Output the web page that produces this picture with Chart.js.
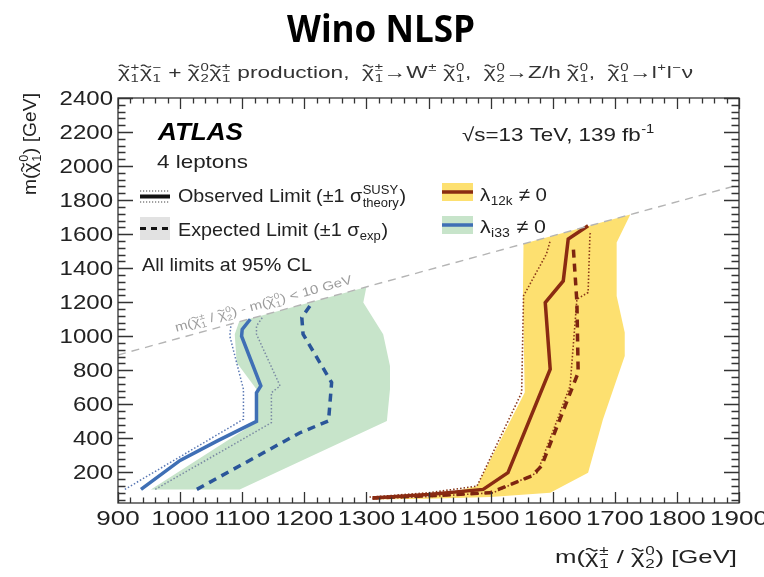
<!DOCTYPE html>
<html>
<head>
<meta charset="utf-8">
<script src="https://cdn.jsdelivr.net/npm/chart.js@4.4.1/dist/chart.umd.min.js"></script>
<style>
  html, body { margin: 0; padding: 0; background: #fff; }
  #wrap { width: 764px; height: 577px; }
</style>
</head>
<body>
<div id="wrap"><canvas id="c" width="764" height="577"></canvas></div>
<script>
// ---- Axis ticks (GeV) ----
const xTickValues = [900, 1000, 1100, 1200, 1300, 1400, 1500, 1600, 1700, 1800, 1900];
const yTickValues = [200, 400, 600, 800, 1000, 1200, 1400, 1600, 1800, 2000, 2200, 2400];

// ---- Kinematic boundary: m(chi1+/chi2^0) - m(chi1^0) = 10 GeV ----
const kinX = [900, 1900];
const kinY = [890, 1890];

// ---- lambda_i33 != 0 (blue / green) ----
const i33ObsX = [937, 1000, 1060, 1123, 1123, 1130, 1099, 1100, 1113];
const i33ObsY = [100, 270, 385, 500, 668, 708, 1000, 1040, 1100];
const i33ObsUpX = [960, 1147, 1147, 1161, 1123, 1123, 1134];
const i33ObsUpY = [100, 492, 668, 708, 1012, 1060, 1118];
const i33ObsDnX = [911, 1102, 1102, 1080, 1082];
const i33ObsDnY = [100, 512, 688, 1002, 1072];
const i33ExpX = [1027, 1193, 1239, 1244, 1198, 1196, 1209];
const i33ExpY = [100, 433, 502, 728, 1012, 1110, 1178];
// expected +-1 sigma band: low edge (bottom -> top), high edge (top -> bottom)
const i33BandLoX = [953, 1121, 1123, 1091, 1088, 1095];
const i33BandLoY = [100, 492, 688, 845, 1012, 1085];
const i33BandHiX = [1300, 1295, 1327, 1338, 1338, 1333, 1096];
const i33BandHiY = [1290, 1198, 1012, 825, 688, 502, 100];

// ---- lambda_12k != 0 (brown / yellow) ----
const l12kObsX = [1310, 1400, 1488, 1528, 1596, 1588, 1617, 1625, 1657];
const l12kObsY = [50, 70, 100, 198, 806, 1198, 1325, 1571, 1649];
const l12kObsUpX = [1310, 1400, 1504, 1575, 1628, 1639, 1657, 1660, 1662];
const l12kObsUpY = [45, 58, 80, 198, 708, 1218, 1257, 1600, 1612];
const l12kObsDnX = [1305, 1400, 1478, 1550, 1553, 1590, 1596];
const l12kObsDnY = [55, 80, 119, 669, 1237, 1484, 1561];
const l12kExpX = [1310, 1400, 1499, 1566, 1582, 1641, 1639, 1633];
const l12kExpY = [50, 62, 80, 178, 237, 786, 1198, 1531];
const l12kBandLoX = [1305, 1400, 1478, 1555, 1552, 1553];
const l12kBandLoY = [40, 55, 119, 669, 1237, 1543];
const l12kBandHiX = [1725, 1703, 1703, 1716, 1716, 1681, 1657, 1596, 1500, 1400, 1305];
const l12kBandHiY = [1715, 1551, 1237, 1022, 884, 512, 198, 80, 55, 45, 40];

// ---- helpers ----
function pts(xs, ys) { return xs.map((x, i) => ({ x: x, y: ys[i] })); }
function band(loX, loY, hiX, hiY) { return pts(loX, loY).concat(pts(hiX, hiY)); }

const FAM = '"Liberation Sans", Arial, Helvetica, sans-serif';
const INK = '#222';
const YELLOW = '#fde070';
const GREEN = '#c7e4ca';

// rich text: ['t', text] plain, ['u', text] superscript, ['d', text] subscript,
// ['ud', sup, sub] stacked scripts, ['x'] chi with tilde
function setFont(ctx, st, size, fam) { ctx.font = `${st} ${size}px ${fam}`; }
function segW(ctx, s, size, st, fam) {
  const k = s[0];
  if (k === 't') { setFont(ctx, st, size, fam); return ctx.measureText(s[1]).width; }
  if (k === 'x') { setFont(ctx, st, size, fam); return ctx.measureText('χ').width; }
  setFont(ctx, st, size * 0.66, fam);
  if (k === 'u' || k === 'd') return ctx.measureText(s[1]).width + size * 0.05;
  if (k === 'ud') return Math.max(ctx.measureText(s[1]).width, ctx.measureText(s[2]).width) + size * 0.06;
  return 0;
}
function segDraw(ctx, s, cx, size, st, fam) {
  const k = s[0];
  if (k === 't') { setFont(ctx, st, size, fam); ctx.fillText(s[1], cx, 0); return; }
  if (k === 'x') {
    setFont(ctx, st, size, fam);
    const w = ctx.measureText('χ').width;
    ctx.fillText('χ', cx, 0);
    // tilde accent
    const y0 = -size * 0.7, a = size * 0.06, x0 = cx + w * 0.08, tw = w * 0.84;
    ctx.save();
    ctx.lineWidth = size * 0.07;
    ctx.strokeStyle = ctx.fillStyle;
    ctx.beginPath();
    for (let i = 0; i <= 16; i++) {
      const t = i / 16;
      const px = x0 + t * tw, py = y0 - a * Math.sin(t * Math.PI * 2);
      if (i === 0) ctx.moveTo(px, py); else ctx.lineTo(px, py);
    }
    ctx.stroke();
    ctx.restore();
    return;
  }
  setFont(ctx, st, size * 0.66, fam);
  if (k === 'u') ctx.fillText(s[1], cx + size * 0.02, -size * 0.42);
  else if (k === 'd') ctx.fillText(s[1], cx + size * 0.02, size * 0.22);
  else if (k === 'ud') {
    ctx.fillText(s[1], cx + size * 0.03, -size * 0.42);
    ctx.fillText(s[2], cx + size * 0.03, size * 0.26);
  }
}
function drawRich(ctx, segs, o) {
  const size = o.size, st = o.style || '', fam = o.family || FAM;
  let w = 0; const ws = [];
  for (const s of segs) { const sw = segW(ctx, s, size, st, fam); ws.push(sw); w += sw; }
  const sx = o.width ? o.width / w : (o.sx || 1);
  ctx.save();
  ctx.translate(o.x, o.y);
  if (o.rot) ctx.rotate(o.rot);
  ctx.scale(sx, 1);
  ctx.fillStyle = o.color || INK;
  ctx.textAlign = 'left';
  ctx.textBaseline = 'alphabetic';
  let cx = o.align === 'right' ? -w : (o.align === 'center' ? -w / 2 : 0);
  segs.forEach((s, i) => { segDraw(ctx, s, cx, size, st, fam); cx += ws[i]; });
  ctx.restore();
}

const X = ['x'];
const subtitleSegs = [
  X, ['ud', '+', '1'], X, ['ud', '−', '1'], ['t', ' + '], X, ['ud', '0', '2'], X, ['ud', '±', '1'],
  ['t', ' production,  '], X, ['ud', '±', '1'], ['t', '→W'], ['u', '±'], ['t', ' '], X, ['ud', '0', '1'],
  ['t', ',  '], X, ['ud', '0', '2'], ['t', '→Z/h '], X, ['ud', '0', '1'],
  ['t', ',  '], X, ['ud', '0', '1'], ['t', '→l'], ['u', '+'], ['t', 'l'], ['u', '−'], ['t', 'ν']
];
const yTitleSegs = [['t', 'm('], X, ['ud', '0', '1'], ['t', ') [GeV]']];
const xTitleSegs = [['t', 'm('], X, ['ud', '±', '1'], ['t', ' / '], X, ['ud', '0', '2'], ['t', ') [GeV]']];
const kinLabelSegs = [['t', 'm('], X, ['ud', '±', '1'], ['t', ' / '], X, ['ud', '0', '2'], ['t', ') - m('], X, ['ud', '0', '1'], ['t', ') < 10 GeV']];

const X_MINOR = 20, X_MAJOR = 100, Y_MINOR = 40, Y_MAJOR = 200;

const decor = {
  id: 'decor',
  beforeDraw(chart) {
    const ctx = chart.ctx;
    ctx.save();
    ctx.fillStyle = '#fff';
    ctx.fillRect(0, 0, chart.width, chart.height);
    ctx.restore();
  },
  afterDraw(chart) {
    const ctx = chart.ctx, a = chart.chartArea;
    const xs = chart.scales.x, ys = chart.scales.y;
    ctx.save();

    // frame
    ctx.strokeStyle = '#333';
    ctx.lineWidth = 1.3;
    ctx.strokeRect(a.left, a.top, a.right - a.left, a.bottom - a.top);

    // inward ticks on all four sides
    ctx.beginPath();
    for (let v = xs.min; v <= xs.max + 1e-6; v += X_MINOR) {
      const px = Math.round(xs.getPixelForValue(v)) + 0.5;
      const len = Math.abs(v % X_MAJOR) < 1e-6 ? 11 : 5.5;
      ctx.moveTo(px, a.bottom); ctx.lineTo(px, a.bottom - len);
      ctx.moveTo(px, a.top); ctx.lineTo(px, a.top + len);
    }
    for (let v = Math.ceil(ys.min / Y_MINOR) * Y_MINOR; v <= ys.max + 1e-6; v += Y_MINOR) {
      const py = Math.round(ys.getPixelForValue(v)) + 0.5;
      const len = Math.abs(v % Y_MAJOR) < 1e-6 ? 15 : 7.5;
      ctx.moveTo(a.left, py); ctx.lineTo(a.left + len, py);
      ctx.moveTo(a.right, py); ctx.lineTo(a.right - len, py);
    }
    ctx.stroke();

    // tick labels from the scales' ticks
    xs.ticks.forEach(t => {
      drawRich(ctx, [['t', String(t.value)]], { x: xs.getPixelForValue(t.value), y: a.bottom + 22, size: 20, sx: 1.3, align: 'center' });
    });
    ys.ticks.forEach(t => {
      drawRich(ctx, [['t', String(t.value)]], { x: a.left - 5, y: ys.getPixelForValue(t.value) + 7, size: 20, sx: 1.2, align: 'right' });
    });

    // axis titles
    drawRich(ctx, xTitleSegs, { x: a.right - 2, y: 563, size: 19, width: 182, align: 'right' });
    drawRich(ctx, yTitleSegs, { x: 36, y: 93, size: 19, width: 102, align: 'right', rot: -Math.PI / 2 });

    // title and process line
    drawRich(ctx, [['t', 'Wino NLSP']], { x: 381, y: 42, size: 37, width: 188, align: 'center', style: 'bold', family: '"Open Sans", "Liberation Sans", sans-serif', color: '#000' });
    drawRich(ctx, subtitleSegs, { x: 118, y: 78, size: 17, width: 575, color: '#333' });

    // label along the kinematic boundary
    const p1x = xs.getPixelForValue(kinX[0]), p1y = ys.getPixelForValue(kinY[0]);
    const p2x = xs.getPixelForValue(kinX[1]), p2y = ys.getPixelForValue(kinY[1]);
    const ang = Math.atan2(p2y - p1y, p2x - p1x);
    const lx = 178, ly = p1y + (lx - p1x) * Math.tan(ang);
    drawRich(ctx, kinLabelSegs, { x: lx + 7 * Math.sin(ang), y: ly - 7 * Math.cos(ang), size: 12.5, width: 183, rot: ang, color: '#9c9c9c' });

    // ATLAS block
    drawRich(ctx, [['t', 'ATLAS']], { x: 158, y: 140, size: 24, width: 85, style: 'italic bold', color: '#000' });
    drawRich(ctx, [['t', '4 leptons']], { x: 157, y: 168, size: 19, width: 91 });
    drawRich(ctx, [['t', '√s=13 TeV, 139 fb'], ['u', '-1']], { x: 462, y: 141, size: 19, width: 193 });

    // legend: observed
    ctx.strokeStyle = '#111';
    ctx.lineWidth = 4;
    ctx.setLineDash([]);
    ctx.beginPath(); ctx.moveTo(140, 196.5); ctx.lineTo(170, 196.5); ctx.stroke();
    ctx.lineWidth = 1.2; ctx.setLineDash([1.2, 1.8]); ctx.strokeStyle = '#444';
    ctx.beginPath(); ctx.moveTo(140, 191); ctx.lineTo(170, 191); ctx.moveTo(140, 202); ctx.lineTo(170, 202); ctx.stroke();
    drawRich(ctx, [['t', 'Observed Limit (±1 σ'], ['ud', 'SUSY', 'theory'], ['t', ')']], { x: 178, y: 202, size: 19, width: 228 });

    // legend: expected
    ctx.setLineDash([]);
    ctx.fillStyle = '#e2e2e2';
    ctx.fillRect(140, 217, 30, 23);
    ctx.strokeStyle = '#111'; ctx.lineWidth = 3; ctx.setLineDash([6, 5]);
    ctx.beginPath(); ctx.moveTo(140, 228.5); ctx.lineTo(170, 228.5); ctx.stroke();
    ctx.setLineDash([]);
    drawRich(ctx, [['t', 'Expected Limit (±1 σ'], ['d', 'exp'], ['t', ')']], { x: 178, y: 236, size: 19, width: 210 });

    drawRich(ctx, [['t', 'All limits at 95% CL']], { x: 142, y: 271, size: 19, width: 170 });

    // legend: couplings
    ctx.fillStyle = YELLOW; ctx.fillRect(442, 183, 31, 18);
    ctx.strokeStyle = '#8a2b12'; ctx.lineWidth = 3.5;
    ctx.beginPath(); ctx.moveTo(442, 192); ctx.lineTo(473, 192); ctx.stroke();
    drawRich(ctx, [['t', 'λ'], ['d', '12k'], ['t', ' ≠ 0']], { x: 480, y: 201, size: 19, width: 67 });

    ctx.fillStyle = GREEN; ctx.fillRect(442, 216, 31, 18);
    ctx.strokeStyle = '#3f6fb5'; ctx.lineWidth = 3.5;
    ctx.beginPath(); ctx.moveTo(442, 225); ctx.lineTo(473, 225); ctx.stroke();
    drawRich(ctx, [['t', 'λ'], ['d', 'i33'], ['t', ' ≠ 0']], { x: 480, y: 233, size: 19, width: 66 });

    ctx.restore();
  }
};

function lineDs(label, data, color, width, dash, order) {
  return { label, data, showLine: true, borderColor: color, borderWidth: width, borderDash: dash,
           pointRadius: 0, fill: false, tension: 0, order };
}
function bandDs(label, data, color, order) {
  return { label, data, showLine: true, borderWidth: 0, borderColor: 'rgba(0,0,0,0)', backgroundColor: color,
           pointRadius: 0, fill: 'shape', tension: 0, order };
}

const datasets = [
  bandDs('i33 expected band', band(i33BandLoX, i33BandLoY, i33BandHiX, i33BandHiY), GREEN, 10),
  bandDs('12k expected band', band(l12kBandLoX, l12kBandLoY, l12kBandHiX, l12kBandHiY), YELLOW, 10),
  lineDs('i33 obs +1s', pts(i33ObsUpX, i33ObsUpY), '#7b8aa3', 1.5, [1.5, 2], 6),
  lineDs('i33 obs -1s', pts(i33ObsDnX, i33ObsDnY), '#5a78b4', 1.5, [1.5, 2], 6),
  lineDs('12k obs +1s', pts(l12kObsUpX, l12kObsUpY), '#8b3a1a', 1.6, [1.5, 2], 6),
  lineDs('12k obs -1s', pts(l12kObsDnX, l12kObsDnY), '#8b3a1a', 1.6, [1.5, 2], 6),
  lineDs('i33 expected', pts(i33ExpX, i33ExpY), '#2a5599', 3.5, [8, 6], 4),
  lineDs('12k expected', pts(l12kExpX, l12kExpY), '#7d2510', 3.5, [8, 6], 4),
  lineDs('i33 observed', pts(i33ObsX, i33ObsY), '#3f6fb5', 3.5, [], 2),
  lineDs('12k observed', pts(l12kObsX, l12kObsY), '#8a2b12', 3.5, [], 2),
  lineDs('kinematic limit', pts(kinX, kinY), '#b4b4b4', 1.4, [8, 6], 1)
];

new Chart(document.getElementById('c'), {
  type: 'scatter',
  data: { datasets },
  options: {
    responsive: false,
    animation: false,
    events: [],
    layout: { padding: { left: 0, right: 25, top: 98, bottom: 0 } },
    plugins: { legend: { display: false }, tooltip: { enabled: false } },
    scales: {
      x: {
        type: 'linear', min: 900, max: 1900,
        grid: { display: false }, border: { display: false },
        ticks: { display: false },
        afterBuildTicks(s) { s.ticks = xTickValues.map(v => ({ value: v })); },
        afterFit(s) { s.height = 74; }
      },
      y: {
        type: 'linear', min: 20, max: 2400,
        grid: { display: false }, border: { display: false },
        ticks: { display: false },
        afterBuildTicks(s) { s.ticks = yTickValues.map(v => ({ value: v })); },
        afterFit(s) { s.width = 118; }
      }
    }
  },
  plugins: [decor]
});
</script>
</body>
</html>
